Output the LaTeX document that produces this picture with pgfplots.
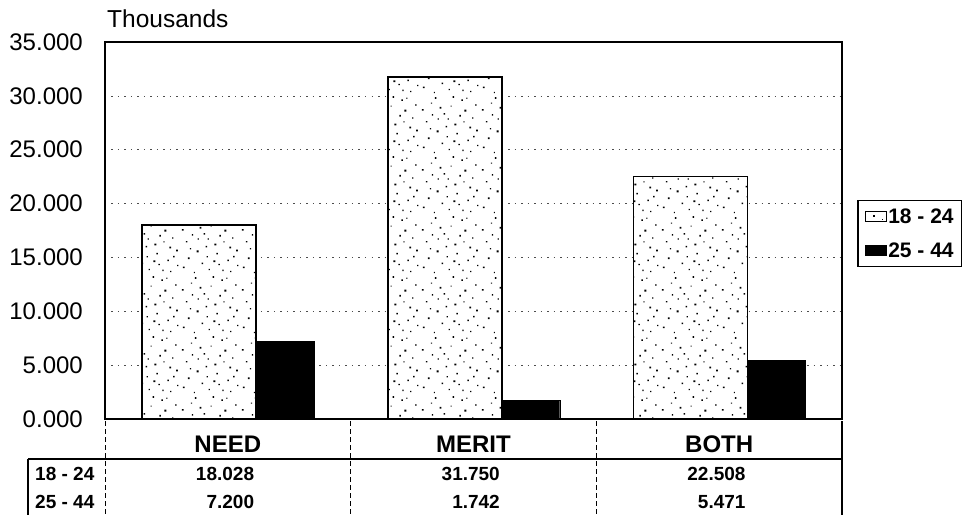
\documentclass[border=0pt]{standalone}
\usepackage{pgfplots}
\pgfplotsset{compat=1.18}
\usepackage{fontspec}
\setmainfont{Liberation Sans}
\usetikzlibrary{patterns.meta}

\tikzdeclarepattern{
  name=speckle,
  type=uncolored,
  bounding box={(0,0) and (60bp,60bp)},
  tile size={(60bp,60bp)},
  code={
    \foreach \px/\py/\s in {3/7/1.6,11/52/1.2,17/23/2,24/41/1.4,29/5/1.2,35/30/1.8,
      42/55/1.4,48/14/1.6,53/37/1.2,57/24/1.8,6/33/1.4,14/2/1.2,20/47/1.8,27/18/1.2,
      33/58/1.6,39/10/1.4,45/44/2,51/3/1.2,56/50/1.4,8/16/1.8,18/36/1.2,26/28/1.6,
      31/49/1.2,37/21/1.4,44/33/1.2,50/27/1.8,58/9/1.2,2/45/1.6,12/40/1.4,22/11/1.6,
      40/39/1.6,47/57/1.2,54/18/1.4,10/26/1.2,34/13/1.8,43/4/1.4,28/36/1.2,15/57/1.6}
      {\fill (\px bp,\py bp) rectangle ++(\s bp,\s bp);}
  }
}

\newcommand{\fsz}[1]{\fontsize{#1bp}{#1bp}\selectfont}

\begin{document}
\begin{tikzpicture}
\useasboundingbox (-105bp,-96bp) rectangle (857bp,419bp);
\begin{axis}[
  at={(0,0)}, anchor=south west,
  scale only axis, width=737bp, height=377bp,
  xmin=-0.5, xmax=2.5, ymin=0, ymax=35,
  xtick={0,1,2}, xticklabels={NEED,MERIT,BOTH},
  ytick={0,5,...,35},
  major tick length=0pt,
  tick style={draw=none},
  axis line style={line width=1.5bp},
  ymajorgrids,
  grid style={black!70, line width=0.7bp, dash pattern=on 1.5bp off 5bp},
  xticklabel style={anchor=base, yshift=-33bp, font=\fsz{24}\bfseries},
  yticklabel style={anchor=east, inner sep=0pt, xshift=-22bp, font=\fsz{24},
    /pgf/number format/fixed, /pgf/number format/fixed zerofill,
    /pgf/number format/precision=3},
  /pgf/number format/assume math mode=true,
  legend style={at={(1.0204,0.5809)}, anchor=north west, draw=black,
    line width=1.5bp, font=\fsz{21}\bfseries, inner xsep=7bp, inner ysep=8bp,
    row sep=17.5bp, cells={anchor=west}, nodes={inner xsep=1.5bp, inner ysep=0pt}},
  legend image code/.code={\draw[#1, line width=1bp] (0bp,-5bp) rectangle (21bp,5bp);},
]
\addplot[ybar, bar width=0.464, bar shift=-0.117, draw=black, line width=1.5bp,
  fill=white, postaction={pattern=speckle}]
  coordinates {(0,18.028) (1,31.750) (2,22.508)};
\addlegendentry{18 - 24}
\addplot[ybar, bar width=0.236, bar shift=0.233, draw=black, fill=black]
  coordinates {(0,7.200) (1,1.742) (2,5.471)};
\addlegendentry{25 - 44}
\end{axis}
% Thousands label
\node[anchor=base west, inner sep=0pt, font=\fsz{24.5}] at (2bp,391bp) {Thousands};
% data table
\draw[line width=1.2bp] (-77bp,-40bp) -- (737bp,-40bp);
\draw[line width=1.2bp] (-77bp,-40bp) -- (-77bp,-96bp);
\foreach \xx in {0,245.7,491.3}
  \draw[line width=1bp, dash pattern=on 5bp off 3bp] (\xx bp,-2bp) -- (\xx bp,-96bp);
\draw[line width=1.2bp] (737bp,-2bp) -- (737bp,-96bp);
\begin{scope}[every node/.style={inner sep=0pt, font=\fsz{19}\bfseries}]
\node[anchor=base west] at (-70bp,-61bp) {18 - 24};
\node[anchor=base west] at (-70bp,-89bp) {25 - 44};
\node[anchor=base east] at (149.3bp,-61bp) {18.028};
\node[anchor=base east] at (395bp,-61bp) {31.750};
\node[anchor=base east] at (640.7bp,-61bp) {22.508};
\node[anchor=base east] at (149.3bp,-89bp) {7.200};
\node[anchor=base east] at (395bp,-89bp) {1.742};
\node[anchor=base east] at (640.7bp,-89bp) {5.471};
\end{scope}
\end{tikzpicture}
\end{document}
